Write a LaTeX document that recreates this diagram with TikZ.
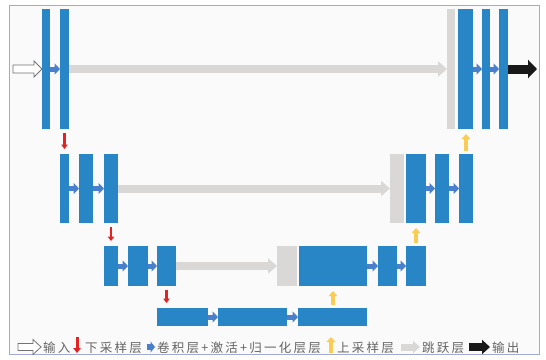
\documentclass[tikz,border=0pt]{standalone}
\usepackage{fontspec}
\newfontfamily\cjk[LetterSpace=18]{Noto Sans CJK SC}
\usetikzlibrary{arrows.meta,calc}
\definecolor{ublue}{RGB}{41,134,198}
\definecolor{arrblue}{RGB}{74,127,203}
\definecolor{skipgray}{RGB}{218,216,214}
\definecolor{redarr}{RGB}{228,34,34}
\definecolor{yelarr}{RGB}{249,205,85}
\definecolor{bgcol}{RGB}{250,250,250}
\definecolor{framecol}{RGB}{160,170,210}
\definecolor{txtcol}{RGB}{100,100,100}
\newcommand\ubox[6]{\node[#1, minimum width={(#5-#3)*1pt}, minimum height={(#6-#4)*1pt}] (#2) at ({(#3+#5)/2},{(#4+#6)/2}) {};}
\tikzset{
  blk/.style={fill=ublue, draw=none, inner sep=0pt, outer sep=0pt},
  gblk/.style={fill=skipgray, draw=none, inner sep=0pt, outer sep=0pt},
  conv/.style={draw=arrblue, line width=5pt, -{Triangle[length=5.5pt,width=11pt]}},
  skip/.style={draw=skipgray, line width=8pt, -{Triangle[length=9pt,width=15pt]}},
  downs/.style={draw=redarr, line width=2.2pt, -{Triangle[length=4.5pt,width=6.5pt]}, shorten <=3.5pt, shorten >=5pt},
  ups/.style={draw=yelarr, line width=4pt, -{Triangle[length=5pt,width=8.5pt]}, shorten <=3.5pt, shorten >=5pt},
  outarr/.style={draw=black!90, line width=9pt, -{Triangle[length=9pt,width=18pt]}},
  hollow/.style={draw=black!55, fill=white, line width=0.8pt, line join=miter},
  lgtext/.style={anchor=west, inner sep=0pt, text=txtcol, font=\cjk\fontsize{12.5}{14}\selectfont},
}
\begin{document}
\begin{tikzpicture}[x=1pt,y=-1pt]
\useasboundingbox (0,0) rectangle (546,359);
\fill[white] (0,0) rectangle (546,359);
\draw[framecol, fill=bgcol, line width=0.8pt] (9,5) rectangle (539,354);
% level 1
\ubox{blk}{a1}{42}{9}{50}{129}
\ubox{blk}{a2}{60}{9}{69}{129}
\ubox{gblk}{gA}{447}{9}{455}{129}
\ubox{blk}{b1}{458}{9}{473}{129}
\ubox{blk}{b2}{482}{9}{490}{129}
\ubox{blk}{b3}{499}{9}{508}{129}
% level 2
\ubox{blk}{c1}{60}{154}{69}{223}
\ubox{blk}{c2}{79}{154}{93}{223}
\ubox{blk}{c3}{104}{154}{118}{223}
\ubox{gblk}{gB}{390}{154}{404}{223}
\ubox{blk}{d1}{406}{154}{426}{223}
\ubox{blk}{d2}{435}{154}{449}{223}
\ubox{blk}{d3}{459}{154}{473}{223}
% level 3
\ubox{blk}{e1}{104}{246}{118}{286}
\ubox{blk}{e2}{128}{246}{148}{286}
\ubox{blk}{e3}{157}{246}{176}{286}
\ubox{gblk}{gC}{277}{246}{297}{286}
\ubox{blk}{f1}{299}{246}{367}{286}
\ubox{blk}{f2}{378}{246}{397}{286}
\ubox{blk}{f3}{406}{246}{426}{286}
% level 4
\ubox{blk}{h1}{157}{308}{208}{326}
\ubox{blk}{h2}{218}{308}{287}{326}
\ubox{blk}{h3}{298}{308}{367}{326}
% conv arrows
\foreach \s/\t in {a1/a2,b1/b2,b2/b3,c1/c2,c2/c3,d1/d2,d2/d3,e1/e2,e2/e3,f1/f2,f2/f3,h1/h2,h2/h3}
  \draw[conv] (\s.east) -- (\t.west);
% skip arrows
\draw[skip] (a2.east) -- (gA.west);
\draw[skip] (c3.east) -- (gB.west);
\draw[skip] (e3.east) -- (gC.west);
% down-sampling
\draw[downs] (a2.south) -- (a2.south |- c1.north);
\draw[downs] (c3.south) -- (c3.south |- e1.north);
\draw[downs] (e3.south) -- (e3.south |- h1.north);
% up-sampling
\draw[ups] (d3.north) -- (d3.north |- b1.south);
\draw[ups] (f3.north) -- (f3.north |- d1.south);
\draw[ups] (f1.south |- h3.north) -- (f1.south);
% input and output
\coordinate (inp) at (13,69);
\draw[hollow] ($(inp)+(0,-4)$) -- ($(a1.west)+(-8,-4)$) -- ($(a1.west)+(-8,-8)$) -- (a1.west)
  -- ($(a1.west)+(-8,8)$) -- ($(a1.west)+(-8,4)$) -- ($(inp)+(0,4)$) -- cycle;
\coordinate (outp) at (537,69);
\draw[outarr] (b3.east) -- (outp);
% legend
\coordinate (l1a) at (18,347); \coordinate (l1b) at (41,347);
\draw[hollow] ($(l1a)+(0,-3.5)$) -- ($(l1b)+(-8,-3.5)$) -- ($(l1b)+(-8,-7.5)$) -- (l1b)
  -- ($(l1b)+(-8,7.5)$) -- ($(l1b)+(-8,3.5)$) -- ($(l1a)+(0,3.5)$) -- cycle;
\node[lgtext] (t1) at (43,348) {输入};
\coordinate (l2a) at (77,337); \coordinate (l2b) at (77,353);
\draw[draw=redarr, line width=3pt, -{Triangle[length=5pt,width=7.5pt]}] (l2a) -- (l2b);
\node[lgtext] (t2) at (85,348) {下采样层};
\coordinate (l3a) at (147,347); \coordinate (l3b) at (155,347);
\draw[draw=arrblue, line width=6pt, -{Triangle[length=4.5pt,width=11pt]}] (l3a) -- (l3b);
\node[lgtext] (t3) at (157,348) {卷积层+激活+归一化层层};
\coordinate (l4a) at (331,353); \coordinate (l4b) at (331,337);
\draw[draw=yelarr, line width=4pt, -{Triangle[length=5pt,width=9pt]}] (l4a) -- (l4b);
\node[lgtext] (t4) at (337,348) {上采样层};
\coordinate (l5a) at (401,347); \coordinate (l5b) at (420,347);
\draw[draw=skipgray, line width=7pt, -{Triangle[length=7pt,width=12pt]}] (l5a) -- (l5b);
\node[lgtext] (t5) at (422,348) {跳跃层};
\coordinate (l6a) at (469,347); \coordinate (l6b) at (490,347);
\draw[draw=black!90, line width=8pt, -{Triangle[length=8pt,width=14pt]}] (l6a) -- (l6b);
\node[lgtext] (t6) at (492,348) {输出};
\end{tikzpicture}
\end{document}
